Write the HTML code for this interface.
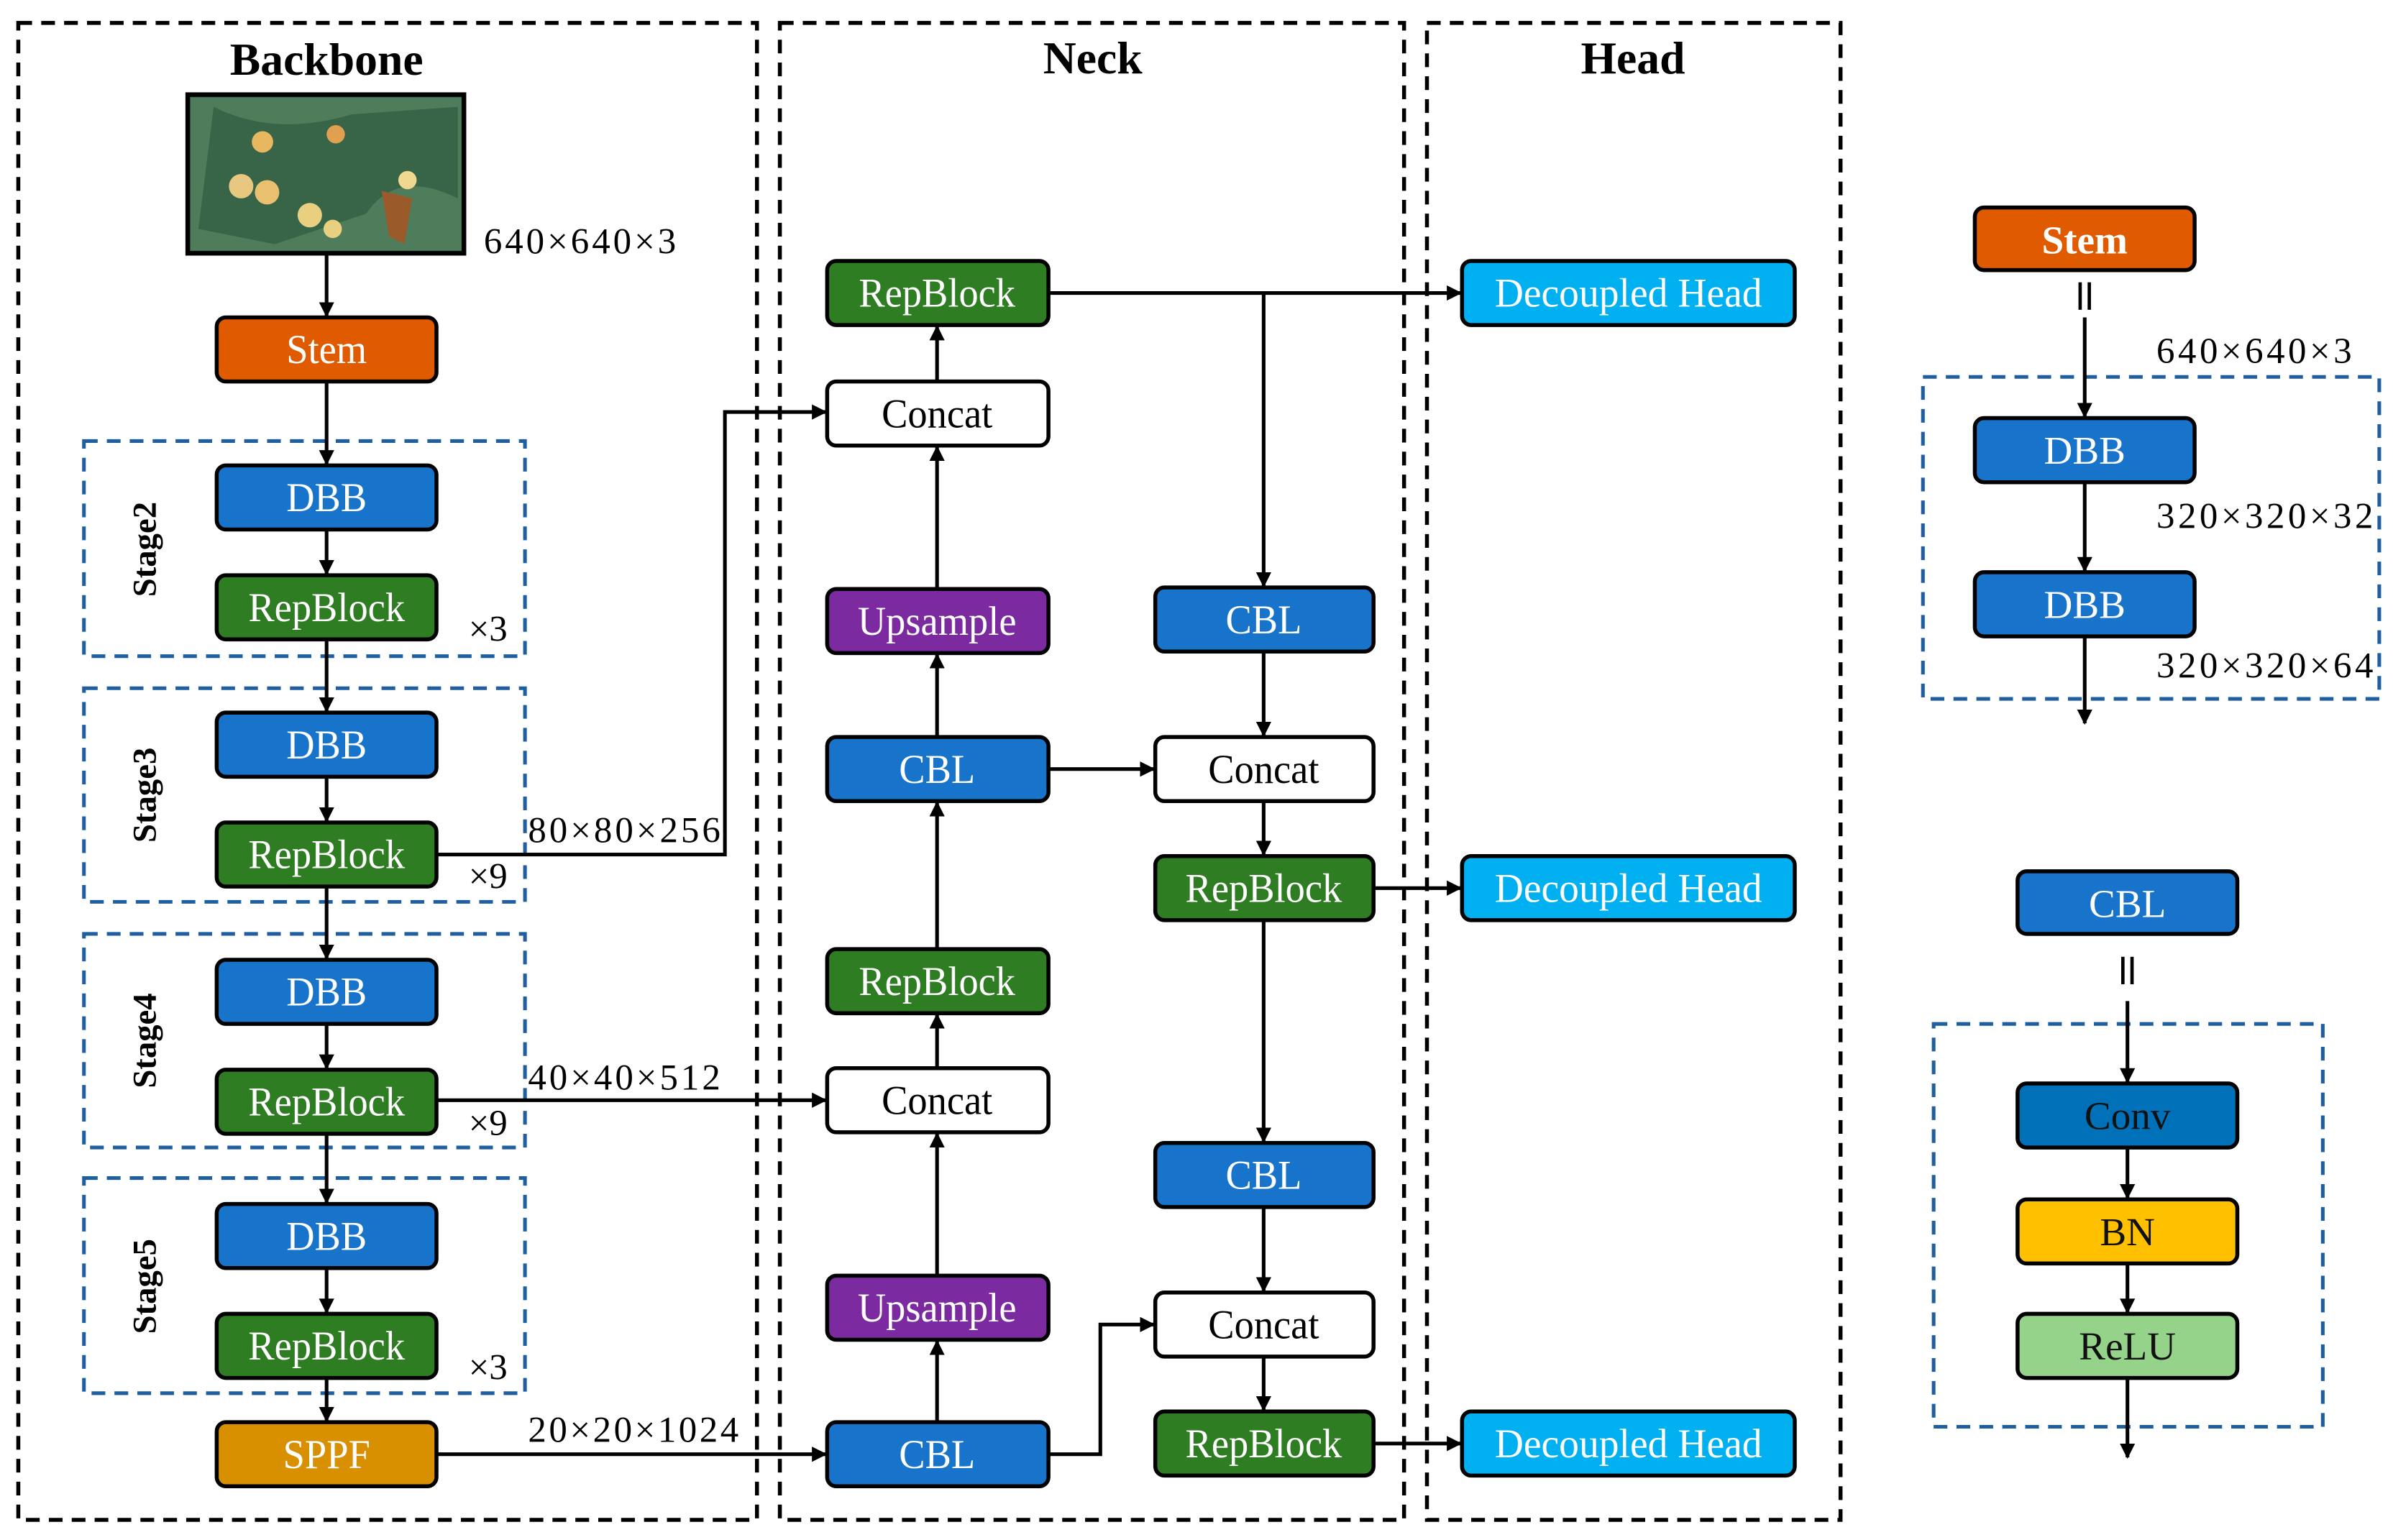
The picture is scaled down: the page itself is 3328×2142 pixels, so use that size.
<!DOCTYPE html>
<html><head><meta charset="utf-8"><style>
html,body{margin:0;padding:0;background:#fff}
svg{display:block}
svg text{font-family:"Liberation Serif","DejaVu Serif",serif}
</style></head><body>
<svg width="3328" height="2142" viewBox="0 0 1568 1009.2" xmlns="http://www.w3.org/2000/svg" font-family="Liberation Serif, DejaVu Serif, serif">
<defs>
<marker id="a" markerWidth="10" markerHeight="10" refX="9" refY="5" orient="auto" markerUnits="userSpaceOnUse">
<path d="M0,0 L10,5 L0,10 z" fill="#000"/></marker>
</defs>
<g fill="none" stroke="#000" stroke-width="2.6" stroke-dasharray="9,6">
<rect x="12" y="15" width="484" height="981"/>
<rect x="511" y="15" width="409" height="981"/>
<rect x="935" y="15" width="271" height="981"/>
</g>
<g fill="none" stroke="#1F5FA0" stroke-width="2.4" stroke-dasharray="9,6">
<rect x="55" y="289" width="289" height="141"/>
<rect x="55" y="451" width="289" height="140"/>
<rect x="55" y="612" width="289" height="140"/>
<rect x="55" y="772" width="289" height="141"/>
<rect x="1260" y="247" width="299" height="211"/>
<rect x="1267" y="671" width="255" height="264"/>
</g>
<g font-weight="bold" font-size="30">
<text x="214" y="49" text-anchor="middle">Backbone</text>
<text x="716" y="48" text-anchor="middle">Neck</text>
<text x="1070" y="48" text-anchor="middle">Head</text>
</g>
<rect x="123" y="62" width="181" height="104" fill="#3f6b4f" stroke="#000" stroke-width="3"/>
<g>
<rect x="125" y="64" width="177" height="100" fill="#4f7d5c"/>
<path d="M140,70 Q180,90 230,75 L300,70 L300,130 Q260,110 240,140 L180,160 L130,150z" fill="#2f5a3f" opacity="0.7"/>
<circle cx="172" cy="93" r="7" fill="#e8b860"/><circle cx="158" cy="122" r="8" fill="#e8c880"/>
<circle cx="175" cy="126" r="8" fill="#e8c070"/><circle cx="220" cy="88" r="6" fill="#e0a050"/>
<circle cx="267" cy="118" r="6" fill="#f0d890"/><circle cx="203" cy="141" r="8" fill="#e8d080"/>
<circle cx="218" cy="150" r="6" fill="#e8d080"/><path d="M250,125 L270,130 L265,160 L255,155z" fill="#9a5a2a"/>
</g>
<g font-size="24">
<text x="317" y="166" textLength="126">640×640×3</text>
<text x="307" y="420">×3</text><text x="307" y="582">×9</text>
<text x="307" y="744">×9</text><text x="307" y="904">×3</text>
<text x="346" y="552" textLength="126">80×80×256</text>
<text x="346" y="714" textLength="126">40×40×512</text>
<text x="346" y="945" textLength="138">20×20×1024</text>
<text x="1413" y="238" textLength="128">640×640×3</text>
<text x="1413" y="346" textLength="142">320×320×32</text>
<text x="1413" y="444" textLength="142">320×320×64</text>
</g>
<g font-weight="bold" font-size="22">
<text transform="translate(102,360) rotate(-90)" text-anchor="middle">Stage2</text>
<text transform="translate(102,521) rotate(-90)" text-anchor="middle">Stage3</text>
<text transform="translate(102,682) rotate(-90)" text-anchor="middle">Stage4</text>
<text transform="translate(102,843) rotate(-90)" text-anchor="middle">Stage5</text>
</g>
<g stroke="#000" stroke-width="2.2">
<line x1="1363" y1="185" x2="1363" y2="203"/><line x1="1369" y1="185" x2="1369" y2="203"/>
<line x1="1391" y1="627" x2="1391" y2="645"/><line x1="1397" y1="627" x2="1397" y2="645"/>
</g>
<g stroke="#000" stroke-width="2.4" fill="none" marker-end="url(#a)">
<line x1="214" y1="166" x2="214" y2="207"/>
<line x1="214" y1="250" x2="214" y2="304"/>
<line x1="214" y1="347" x2="214" y2="376"/>
<line x1="214" y1="419" x2="214" y2="466"/>
<line x1="214" y1="509" x2="214" y2="538"/>
<line x1="214" y1="581" x2="214" y2="628"/>
<line x1="214" y1="671" x2="214" y2="700"/>
<line x1="214" y1="743" x2="214" y2="788"/>
<line x1="214" y1="831" x2="214" y2="860"/>
<line x1="214" y1="903" x2="214" y2="931"/>
<polyline points="286,560 475,560 475,270 541,270"/>
<line x1="286" y1="721" x2="541" y2="721"/>
<line x1="286" y1="953" x2="541" y2="953"/>
<line x1="614" y1="932" x2="614" y2="879"/>
<line x1="614" y1="836" x2="614" y2="743"/>
<line x1="614" y1="700" x2="614" y2="665"/>
<line x1="614" y1="622" x2="614" y2="526"/>
<line x1="614" y1="483" x2="614" y2="429"/>
<line x1="614" y1="386" x2="614" y2="293"/>
<line x1="614" y1="250" x2="614" y2="214"/>
<line x1="687" y1="192" x2="957" y2="192"/>
<line x1="828" y1="192" x2="828" y2="384"/>
<line x1="828" y1="427" x2="828" y2="482"/>
<line x1="687" y1="504" x2="756" y2="504"/>
<line x1="828" y1="525" x2="828" y2="560"/>
<line x1="900" y1="582" x2="957" y2="582"/>
<line x1="828" y1="603" x2="828" y2="748"/>
<line x1="828" y1="791" x2="828" y2="846"/>
<polyline points="687,953 721,953 721,868 756,868"/>
<line x1="828" y1="889" x2="828" y2="924"/>
<line x1="900" y1="946" x2="957" y2="946"/>
<line x1="1366" y1="208" x2="1366" y2="273"/>
<line x1="1366" y1="316" x2="1366" y2="374"/>
<line x1="1366" y1="417" x2="1366" y2="474"/>
<line x1="1394" y1="656" x2="1394" y2="709"/>
<line x1="1394" y1="752" x2="1394" y2="785"/>
<line x1="1394" y1="828" x2="1394" y2="860"/>
<line x1="1394" y1="903" x2="1394" y2="955"/>
</g>
<g stroke="#000" stroke-width="2.6">
<rect x="142" y="208" width="144" height="42" rx="6" fill="#E05A00"/>
<rect x="142" y="305" width="144" height="42" rx="6" fill="#1874CA"/>
<rect x="142" y="377" width="144" height="42" rx="6" fill="#2E7D22"/>
<rect x="142" y="467" width="144" height="42" rx="6" fill="#1874CA"/>
<rect x="142" y="539" width="144" height="42" rx="6" fill="#2E7D22"/>
<rect x="142" y="629" width="144" height="42" rx="6" fill="#1874CA"/>
<rect x="142" y="701" width="144" height="42" rx="6" fill="#2E7D22"/>
<rect x="142" y="789" width="144" height="42" rx="6" fill="#1874CA"/>
<rect x="142" y="861" width="144" height="42" rx="6" fill="#2E7D22"/>
<rect x="142" y="932" width="144" height="42" rx="6" fill="#D89000"/>
<rect x="542" y="171" width="145" height="42" rx="6" fill="#2E7D22"/>
<rect x="542" y="250" width="145" height="42" rx="6" fill="#fff"/>
<rect x="542" y="386" width="145" height="42" rx="6" fill="#7B2AA0"/>
<rect x="542" y="483" width="145" height="42" rx="6" fill="#1874CA"/>
<rect x="542" y="622" width="145" height="42" rx="6" fill="#2E7D22"/>
<rect x="542" y="700" width="145" height="42" rx="6" fill="#fff"/>
<rect x="542" y="836" width="145" height="42" rx="6" fill="#7B2AA0"/>
<rect x="542" y="932" width="145" height="42" rx="6" fill="#1874CA"/>
<rect x="757" y="385" width="143" height="42" rx="6" fill="#1874CA"/>
<rect x="757" y="483" width="143" height="42" rx="6" fill="#fff"/>
<rect x="757" y="561" width="143" height="42" rx="6" fill="#2E7D22"/>
<rect x="757" y="749" width="143" height="42" rx="6" fill="#1874CA"/>
<rect x="757" y="847" width="143" height="42" rx="6" fill="#fff"/>
<rect x="757" y="925" width="143" height="42" rx="6" fill="#2E7D22"/>
<rect x="958" y="171" width="218" height="42" rx="6" fill="#00B0F0"/>
<rect x="958" y="561" width="218" height="42" rx="6" fill="#00B0F0"/>
<rect x="958" y="925" width="218" height="42" rx="6" fill="#00B0F0"/>
<rect x="1294" y="136" width="144" height="41" rx="6" fill="#E05A00"/>
<rect x="1294" y="274" width="144" height="42" rx="6" fill="#1874CA"/>
<rect x="1294" y="375" width="144" height="42" rx="6" fill="#1874CA"/>
<rect x="1322" y="571" width="144" height="41" rx="6" fill="#1874CA"/>
<rect x="1322" y="710" width="144" height="42" rx="6" fill="#0070B8"/>
<rect x="1322" y="786" width="144" height="42" rx="6" fill="#FFC000"/>
<rect x="1322" y="861" width="144" height="42" rx="6" fill="#96D38A"/>
</g>
<g font-size="27" text-anchor="middle">
<g fill="#fff">
<text transform="translate(214,238) scale(0.95,1)">Stem</text>
<text transform="translate(214,335) scale(0.95,1)">DBB</text>
<text transform="translate(214,407) scale(0.95,1)">RepBlock</text>
<text transform="translate(214,497) scale(0.95,1)">DBB</text>
<text transform="translate(214,569) scale(0.95,1)">RepBlock</text>
<text transform="translate(214,659) scale(0.95,1)">DBB</text>
<text transform="translate(214,731) scale(0.95,1)">RepBlock</text>
<text transform="translate(214,819) scale(0.95,1)">DBB</text>
<text transform="translate(214,891) scale(0.95,1)">RepBlock</text>
<text transform="translate(214,962) scale(0.95,1)">SPPF</text>
<text transform="translate(614,201) scale(0.95,1)">RepBlock</text>
<text transform="translate(614,416) scale(0.95,1)">Upsample</text>
<text transform="translate(614,513) scale(0.95,1)">CBL</text>
<text transform="translate(614,652) scale(0.95,1)">RepBlock</text>
<text transform="translate(614,866) scale(0.95,1)">Upsample</text>
<text transform="translate(614,962) scale(0.95,1)">CBL</text>
<text transform="translate(828,415) scale(0.95,1)">CBL</text>
<text transform="translate(828,591) scale(0.95,1)">RepBlock</text>
<text transform="translate(828,779) scale(0.95,1)">CBL</text>
<text transform="translate(828,955) scale(0.95,1)">RepBlock</text>
<text transform="translate(1067,201) scale(0.97,1)">Decoupled Head</text>
<text transform="translate(1067,591) scale(0.97,1)">Decoupled Head</text>
<text transform="translate(1067,955) scale(0.97,1)">Decoupled Head</text>
</g>
<g fill="#000">
<text transform="translate(614,280) scale(0.95,1)">Concat</text>
<text transform="translate(614,730) scale(0.95,1)">Concat</text>
<text transform="translate(828,513) scale(0.95,1)">Concat</text>
<text transform="translate(828,877) scale(0.95,1)">Concat</text>
</g>
</g>
<g font-size="26" text-anchor="middle">
<text x="1366" y="166" fill="#fff" font-weight="bold">Stem</text>
<text x="1366" y="304" fill="#fff">DBB</text>
<text x="1366" y="405" fill="#fff">DBB</text>
<text x="1394" y="601" fill="#fff">CBL</text>
<text x="1394" y="740" fill="#111">Conv</text>
<text x="1394" y="816" fill="#111">BN</text>
<text x="1394" y="891" fill="#111">ReLU</text>
</g>
</svg>
</body></html>
